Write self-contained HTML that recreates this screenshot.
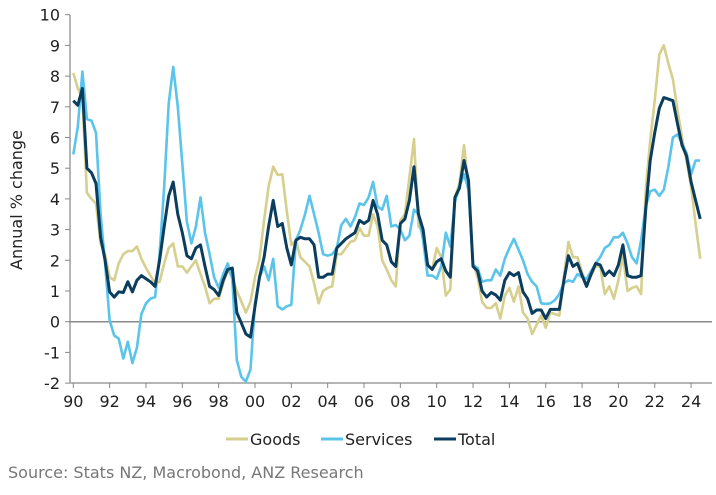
<!DOCTYPE html>
<html><head><meta charset="utf-8"><style>
body{margin:0;background:#fff;font-family:"DejaVu Sans",sans-serif}
svg text{font-family:"DejaVu Sans",sans-serif}
</style></head><body>
<svg id="chart" width="716" height="491" viewBox="0 0 716 491" xmlns="http://www.w3.org/2000/svg">
<g id="axes"></g><g id="series"></g>
<text x="22" y="200" transform="rotate(-90 22 200)" text-anchor="middle" font-size="16" fill="#222">Annual % change</text>
<g>
<g><line x1="226" y1="439" x2="248" y2="439" stroke="#d6cf8d" stroke-width="3"/><text x="250" y="445" font-size="16" fill="#222">Goods</text></g>
<g><line x1="321" y1="439" x2="343" y2="439" stroke="#5bc4ea" stroke-width="3"/><text x="345" y="445" font-size="16" fill="#222">Services</text></g>
<g><line x1="434" y1="439" x2="456" y2="439" stroke="#0b3d5e" stroke-width="3"/><text x="458" y="445" font-size="16" fill="#222">Total</text></g>
</g>
<text x="8" y="478" font-size="16" fill="#777">Source: Stats NZ, Macrobond, ANZ Research</text>
</svg>
<script>
const startYear = 1990;
const yTicks = [-2,-1,0,1,2,3,4,5,6,7,8,9,10];
const xTickYears = [1990,1992,1994,1996,1998,2000,2002,2004,2006,2008,2010,2012,2014,2016,2018,2020,2022,2024];
const goods = [8.1,7.6,7.3,4.2,4.0,3.85,2.55,2.2,1.45,1.35,1.9,2.2,2.3,2.3,2.45,2.05,1.75,1.5,1.25,1.3,1.9,2.4,2.55,1.8,1.8,1.6,1.8,2.0,1.55,1.15,0.6,0.75,0.75,1.25,1.7,1.45,1.0,0.65,0.3,0.65,1.45,2.05,3.3,4.4,5.05,4.78,4.8,3.6,2.5,2.65,2.1,1.95,1.8,1.25,0.6,1.0,1.1,1.15,2.2,2.2,2.4,2.6,2.65,3.05,2.8,2.8,3.5,3.1,2.0,1.7,1.35,1.15,3.3,3.5,4.7,5.95,3.1,2.9,1.8,1.7,2.4,2.1,0.85,1.05,4.05,4.5,5.75,4.4,1.9,1.45,0.65,0.45,0.45,0.6,0.1,0.85,1.1,0.65,1.15,0.3,0.1,-0.4,-0.1,0.2,-0.2,0.3,0.25,0.2,1.45,2.6,2.1,2.1,1.6,1.2,1.5,1.8,1.8,0.9,1.15,0.75,1.35,2.15,1.0,1.1,1.15,0.9,4.3,5.9,7.2,8.7,9.0,8.4,7.9,6.9,6.0,5.25,4.4,3.2,2.05];
const services = [5.45,6.35,8.15,6.6,6.55,6.15,3.5,1.9,0.05,-0.45,-0.55,-1.2,-0.65,-1.35,-0.85,0.25,0.6,0.75,0.8,2.2,4.4,7.1,8.3,7.0,5.15,3.25,2.55,3.1,4.05,2.9,2.2,1.45,1.1,1.55,1.9,1.4,-1.25,-1.8,-1.95,-1.55,0.6,1.45,1.8,1.35,2.05,0.5,0.4,0.5,0.55,2.65,3.0,3.5,4.1,3.5,2.9,2.2,2.15,2.2,2.4,3.15,3.35,3.1,3.4,3.85,3.8,4.05,4.55,3.75,3.65,4.1,3.1,3.15,3.0,2.65,2.8,3.65,3.5,2.65,1.5,1.5,1.4,1.8,2.9,2.45,3.9,4.4,4.8,4.3,1.85,1.75,1.3,1.35,1.35,1.7,1.5,2.05,2.4,2.7,2.35,2.0,1.55,1.3,1.15,0.6,0.58,0.6,0.7,0.9,1.25,1.35,1.3,1.55,1.45,1.4,1.65,1.9,2.1,2.4,2.5,2.75,2.75,2.9,2.55,2.1,1.9,2.65,3.75,4.25,4.3,4.1,4.3,5.05,6.0,6.1,5.8,5.5,4.8,5.25,5.25];
const total = [7.2,7.05,7.6,5.0,4.85,4.5,2.75,2.0,0.97,0.8,0.97,0.95,1.3,0.97,1.35,1.5,1.4,1.3,1.15,2.0,3.1,4.1,4.55,3.5,2.9,2.15,2.05,2.4,2.5,1.8,1.15,1.05,0.85,1.35,1.7,1.75,0.3,-0.05,-0.4,-0.5,0.5,1.45,2.1,3.1,3.95,3.1,3.2,2.4,1.85,2.65,2.75,2.7,2.7,2.5,1.45,1.45,1.55,1.55,2.4,2.55,2.7,2.8,2.9,3.3,3.2,3.3,3.95,3.5,2.65,2.5,1.95,1.8,3.2,3.35,3.95,5.05,3.5,3.0,1.85,1.7,1.95,2.05,1.65,1.45,4.05,4.35,5.25,4.6,1.8,1.65,1.0,0.8,0.95,0.87,0.7,1.35,1.6,1.5,1.6,0.97,0.75,0.27,0.38,0.38,0.1,0.4,0.4,0.4,1.35,2.15,1.8,1.9,1.5,1.15,1.55,1.9,1.85,1.5,1.65,1.5,1.85,2.5,1.5,1.45,1.45,1.5,3.65,5.25,6.15,6.95,7.3,7.25,7.2,6.45,5.75,5.4,4.55,3.95,3.35];

const NS="http://www.w3.org/2000/svg";
const X0=73.3, PXY=18.17, Y0=321.7, PXV=30.7, LEFT=70, RIGHT=712, BOTTOM=383;
function xScale(t){return X0+PXY*(t-startYear);}
function yScale(v){return Y0-PXV*v;}
function mk(tag,attrs){const e=document.createElementNS(NS,tag);for(const k in attrs)e.setAttribute(k,attrs[k]);return e;}
const axes=document.getElementById('axes');
const yAxis=mk('line',{x1:LEFT,y1:yScale(10),x2:LEFT,y2:BOTTOM,stroke:'#b5b5b5','stroke-width':2});


axes.appendChild(yAxis);
const xAxis=mk('line',{x1:LEFT,y1:BOTTOM,x2:RIGHT,y2:BOTTOM,stroke:'#b5b5b5','stroke-width':2});


axes.appendChild(xAxis);
const zl=mk('line',{x1:LEFT,y1:yScale(0),x2:RIGHT,y2:yScale(0),stroke:'#8a8a8a','stroke-width':1.5});


axes.appendChild(zl);
yTicks.forEach(v=>{
  const t=mk('line',{x1:LEFT-5,y1:yScale(v),x2:LEFT,y2:yScale(v),stroke:'#888','stroke-width':1});
  
  
  axes.appendChild(t);
  const l=mk('text',{x:LEFT-10,y:yScale(v)+6,'text-anchor':'end','font-size':16,fill:'#222'});
  l.textContent=v;
  
  
  axes.appendChild(l);
});
xTickYears.forEach(yr=>{
  const x=xScale(yr);
  const t=mk('line',{x1:x,y1:BOTTOM,x2:x,y2:BOTTOM+5,stroke:'#888','stroke-width':1});
  
  
  axes.appendChild(t);
  const l=mk('text',{x:x,y:BOTTOM+24,'text-anchor':'middle','font-size':16,fill:'#222'});
  l.textContent=String(yr%100).padStart(2,'0');
  
  
  axes.appendChild(l);
});
const sg=document.getElementById('series');
function drawLine(arr,color,w,name){
  const pts=arr.map((v,i)=>xScale(startYear+i/4).toFixed(1)+','+yScale(v).toFixed(1)).join(' ');
  const p=mk('polyline',{points:pts,fill:'none',stroke:color,'stroke-width':w,'stroke-linejoin':'round'});
  
  
  sg.appendChild(p);
}
drawLine(goods,'#d6cf8d',2.6,'goods-line');
drawLine(services,'#5bc4ea',2.6,'services-line');
drawLine(total,'#0b3d5e',3,'total-line');
</script>
</body></html>
